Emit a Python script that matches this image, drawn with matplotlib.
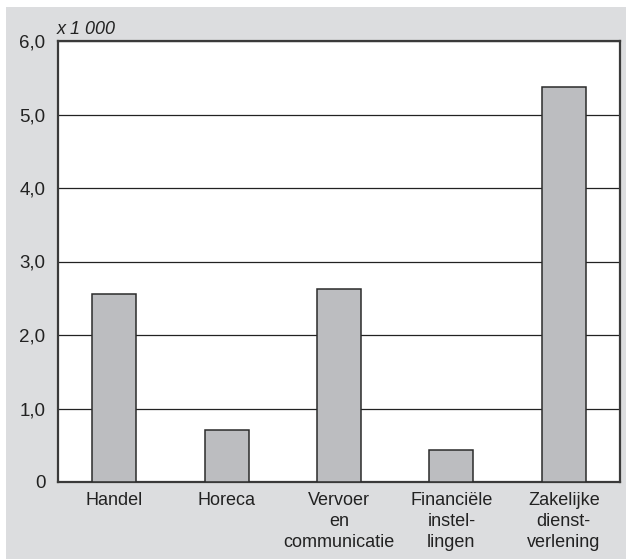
import numpy as np
import matplotlib.pyplot as plt
from matplotlib.patches import Rectangle

plt.rcParams['font.family'] = ['Liberation Sans', 'DejaVu Sans']

# sector employment, x 1 000
sectors = ['Handel', 'Horeca', 'Vervoer\nen\ncommunicatie',
           'Financiële\ninstel-\nlingen', 'Zakelijke\ndienst-\nverlening']
values = [2.56, 0.71, 2.63, 0.43, 5.37]
yticks = [0, 1, 2, 3, 4, 5, 6]
ytick_labels = ['0', '1,0', '2,0', '3,0', '4,0', '5,0', '6,0']

W, H = 626, 559
fig = plt.figure(figsize=(W / 100, H / 100), dpi=100)
fig.patch.set_facecolor('white')
# gray panel behind everything (white strip at top and left)
fig.patches.append(Rectangle((6 / W, 0), 1 - 6 / W, 1 - 7 / H,
                             transform=fig.transFigure, facecolor='#dcdddf',
                             edgecolor='none', zorder=-5))

ax = fig.add_axes([58 / W, 1 - 482 / H, (620 - 58) / W, (482 - 41) / H])
ax.set_facecolor('white')

x = np.arange(len(sectors))
ax.bar(x, values, width=0.39, color='#bcbdc0', edgecolor='#2b2b2b',
       linewidth=1.1, zorder=3)

ax.set_xlim(-0.5, 4.5)
ax.set_ylim(0, 6)
ax.set_yticks(yticks)
ax.set_yticklabels(ytick_labels, fontsize=13.5, color='#222222')
ax.set_xticks(x)
ax.set_xticklabels(sectors, fontsize=13, color='#222222', linespacing=1.32)
ax.tick_params(length=0, pad=9)
ax.tick_params(axis='x', pad=7)

ax.yaxis.grid(True, color='#222222', linewidth=0.9, zorder=1)
ax.set_axisbelow(True)
for s in ax.spines.values():
    s.set_color('#3a3a3a')
    s.set_linewidth(1.6)

fig.text(57 / W, 1 - 29 / H, 'x 1 000', fontsize=13, style='italic',
         color='#222222', va='center', ha='left')

fig.savefig('out.png', dpi=100)
